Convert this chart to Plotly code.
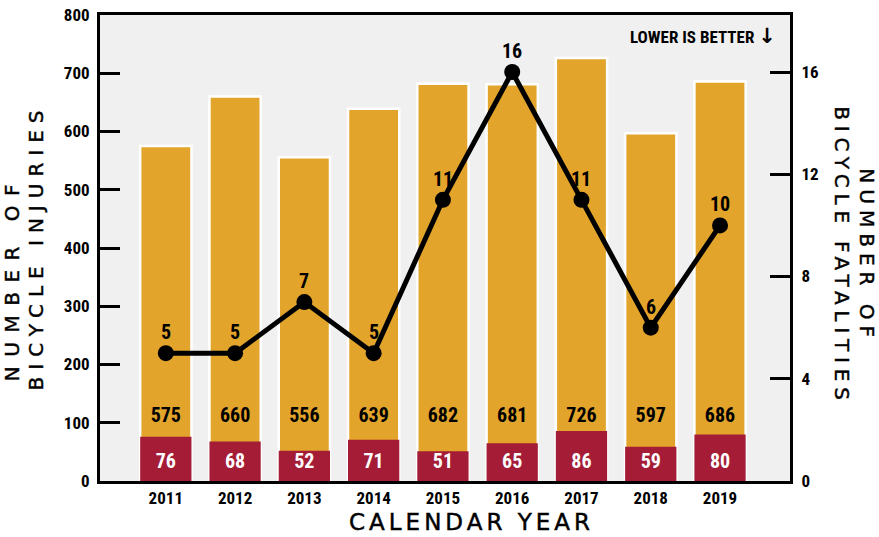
import plotly.graph_objects as go

# Annual bicycle crash data
years = ["2011", "2012", "2013", "2014", "2015", "2016", "2017", "2018", "2019"]
injuries = [575, 660, 556, 639, 682, 681, 726, 597, 686]
serious_injuries = [76, 68, 52, 71, 51, 65, 86, 59, 80]
fatalities = [5, 5, 7, 5, 11, 16, 11, 6, 10]

left_ticks = [0, 100, 200, 300, 400, 500, 600, 700, 800]
right_ticks = [0, 4, 8, 12, 16]

ORANGE = "#E2A42A"
RED = "#A41C36"
BG = "#F0F0F0"
NUM_FONT = "Noto Sans Condensed, Roboto Condensed, Roboto, sans-serif"
TITLE_FONT = "DejaVu Sans, Verdana, sans-serif"


def spaced(text, px):
    """Wrap text in a span with extra letter spacing and a slightly heavier stroke."""
    return (f'<span style="letter-spacing:{px}px;stroke:black;stroke-width:0.45px">'
            f'{text}</span>')


fig = go.Figure()

# Total injuries (orange) with serious injuries (red) drawn over the base
fig.add_trace(go.Bar(
    x=years, y=injuries, marker=dict(color=ORANGE, line=dict(color="white", width=2.5)),
    width=0.74, hoverinfo="y", showlegend=False,
))
fig.add_trace(go.Bar(
    x=years, y=serious_injuries, marker=dict(color=RED, line=dict(width=0)),
    width=0.74, hoverinfo="y", showlegend=False,
))

# Value labels for the two bar series
fig.add_trace(go.Scatter(
    x=years, y=[110] * len(years), mode="text", text=[str(v) for v in injuries],
    textfont=dict(family=NUM_FONT, size=20, color="black", weight="bold"),
    hoverinfo="skip", showlegend=False,
))
fig.add_trace(go.Scatter(
    x=years, y=[31] * len(years), mode="text", text=[str(v) for v in serious_injuries],
    textfont=dict(family=NUM_FONT, size=20, color="white", weight="bold"),
    hoverinfo="skip", showlegend=False,
))

# Fatalities on the secondary axis
fig.add_trace(go.Scatter(
    x=years, y=fatalities, yaxis="y2", mode="lines+markers",
    line=dict(color="black", width=5), marker=dict(color="black", size=16),
    showlegend=False,
))

# Fatality value labels just above each point (x given as category index)
point_labels = [
    dict(text=str(v), x=i, y=v, xref="x", yref="y2", yshift=21, showarrow=False,
         font=dict(family=NUM_FONT, size=20, color="black", weight="bold"))
    for i, v in enumerate(fatalities)
]

tick_font = dict(family=NUM_FONT, size=17, color="black", weight="bold")
title_font = dict(family=TITLE_FONT, size=20, color="black")

fig.update_layout(
    width=879, height=537,
    margin=dict(l=100, r=89, t=15, b=56),
    paper_bgcolor="white", plot_bgcolor=BG,
    barmode="overlay",
    xaxis=dict(
        type="category", range=[-0.95, 9.01], automargin=False,
        showgrid=False, zeroline=False, showline=True, linecolor="black", linewidth=3,
        mirror=True, ticks="", tickfont=tick_font,
    ),
    yaxis=dict(
        range=[0, 800], tickvals=left_ticks, showgrid=False, zeroline=False,
        automargin=False, showline=True, linecolor="black", linewidth=3,
        ticks="inside", ticklen=20, tickwidth=3, tickcolor="black",
        ticklabelstandoff=4, tickfont=tick_font,
    ),
    yaxis2=dict(
        overlaying="y", side="right", range=[0, 18.23], tickvals=right_ticks,
        automargin=False, showgrid=False, zeroline=False, showline=True,
        linecolor="black", linewidth=3, ticks="inside", ticklen=20, tickwidth=3,
        tickcolor="black", ticklabelstandoff=5, tickfont=tick_font,
    ),
    annotations=point_labels + [
        dict(text='LOWER IS BETTER <span style="font-family:DejaVu Sans;font-size:21px;'
                  'font-weight:bold">\u2193</span>',
             xref="paper", yref="paper", x=0.982, y=0.955,
             xanchor="right", yanchor="middle", showarrow=False,
             font=dict(family=NUM_FONT, size=17, color="black", weight="bold")),
        dict(text=spaced("CALENDAR YEAR", 4), xref="paper", yref="paper",
             x=0.539, y=-0.088, xanchor="center", yanchor="middle", showarrow=False,
             font=dict(family=TITLE_FONT, size=23, color="black")),
        # Left axis title, two lines aligned at their lower end
        dict(text=spaced("NUMBER OF", 9.5), xref="paper", yref="paper",
             x=-0.1275, y=0.21, xanchor="center", yanchor="bottom", textangle=-90,
             showarrow=False, font=title_font),
        dict(text=spaced("BICYCLE INJURIES", 7), xref="paper", yref="paper",
             x=-0.0935, y=0.19, xanchor="center", yanchor="bottom", textangle=-90,
             showarrow=False, font=title_font),
        # Right axis title, two centred lines
        dict(text=spaced("NUMBER OF", 6), xref="paper", yref="paper",
             x=1.111, y=0.483, xanchor="center", yanchor="middle", textangle=90,
             showarrow=False, font=title_font),
        dict(text=spaced("BICYCLE FATALITIES", 5.8), xref="paper", yref="paper",
             x=1.075, y=0.483, xanchor="center", yanchor="middle", textangle=90,
             showarrow=False, font=title_font),
    ],
)

fig.write_html("out.html")
